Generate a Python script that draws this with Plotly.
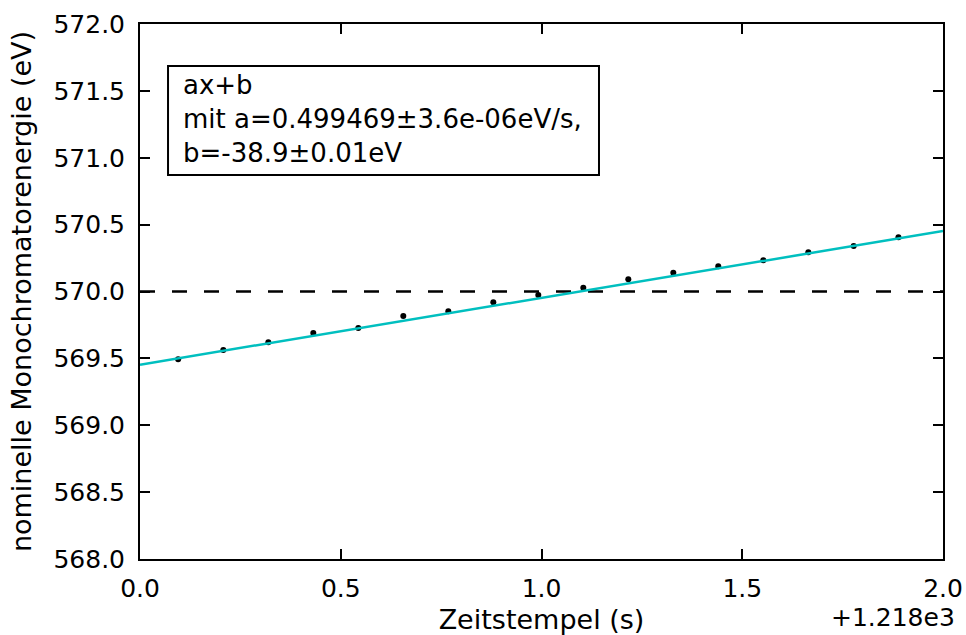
import plotly.graph_objects as go

# Data (time offset from 1218 s, nominal monochromator energy in eV)
t_points = [0.095, 0.2075, 0.3196, 0.4316, 0.5437, 0.6558, 0.7679, 0.8800, 0.9920,
            1.1041, 1.2162, 1.3283, 1.4403, 1.5524, 1.6645, 1.7775, 1.8890]
e_points = [569.493, 569.563, 569.620, 569.690, 569.727, 569.817, 569.852, 569.919, 569.974,
            570.028, 570.091, 570.141, 570.188, 570.233, 570.293, 570.340, 570.405]
fit_x = [0.0, 2.0]
fit_y = [569.453, 570.452]
ref_x = [0.0, 2.0]
ref_y = [570.0, 570.0]
x_ticks = [0.0, 0.5, 1.0, 1.5, 2.0]
y_ticks = [568.0, 568.5, 569.0, 569.5, 570.0, 570.5, 571.0, 571.5, 572.0]
box_lines = ["ax+b", "mit a=0.499469±3.6e-06eV/s,", "b=-38.9±0.01eV"]

FONT = "DejaVu Sans"
FS_TICK = 25
FS_TEXT = 27
FS_BOX = 26

fig = go.Figure()
fig.add_trace(go.Scatter(x=ref_x, y=ref_y, mode="lines",
                         line=dict(color="black", width=2.5, dash="15px,17px"),
                         showlegend=False, hoverinfo="skip"))
fig.add_trace(go.Scatter(x=t_points, y=e_points, mode="markers",
                         marker=dict(color="black", size=6),
                         showlegend=False))
fig.add_trace(go.Scatter(x=fit_x, y=fit_y, mode="lines",
                         line=dict(color="#00BFBF", width=2.5),
                         showlegend=False))

axis_common = dict(showline=True, linecolor="black", linewidth=2, mirror="ticks",
                   ticks="inside", ticklen=10, tickwidth=1.5, tickcolor="black",
                   showgrid=False, zeroline=False, automargin=False,
                   tickfont=dict(family=FONT, size=FS_TICK, color="black"))

fig.update_xaxes(range=[0, 2], tickvals=x_ticks, ticktext=[f"{v:.1f}" for v in x_ticks],
                 title=dict(text="Zeitstempel (s)", font=dict(family=FONT, size=FS_TEXT, color="black"),
                            standoff=14),
                 ticklabelstandoff=6, **axis_common)
fig.update_yaxes(range=[568, 572], tickvals=y_ticks, ticktext=[f"{v:.1f}" for v in y_ticks],
                 title=dict(text="nominelle Monochromatorenergie (eV)",
                            font=dict(family=FONT, size=FS_TEXT, color="black"), standoff=14),
                 ticklabelstandoff=8, **axis_common)

# Text box
fig.add_shape(type="rect", xref="paper", yref="paper", x0=0.0349, x1=0.5716, y0=0.7178, y1=0.9215,
              line=dict(color="black", width=2), fillcolor="white", layer="above")
fig.add_annotation(xref="paper", yref="paper", x=0.0511, y=(559 - 119) / 535,
                   xanchor="left", yanchor="middle", align="left", text="<br>".join(box_lines),
                   showarrow=False, font=dict(family=FONT, size=FS_BOX, color="black"))

fig.add_annotation(xref="paper", yref="paper", x=(957 - 140) / 803, y=(559 - 617) / 535,
                   xanchor="right", yanchor="middle", text="+1.218e3", showarrow=False,
                   font=dict(family=FONT, size=FS_TICK, color="black"))

fig.update_layout(width=966, height=635, plot_bgcolor="white", paper_bgcolor="white",
                  margin=dict(l=140, r=23, t=24, b=76),
                  font=dict(family=FONT, size=FS_TICK, color="black"))

fig.write_html("out.html")
